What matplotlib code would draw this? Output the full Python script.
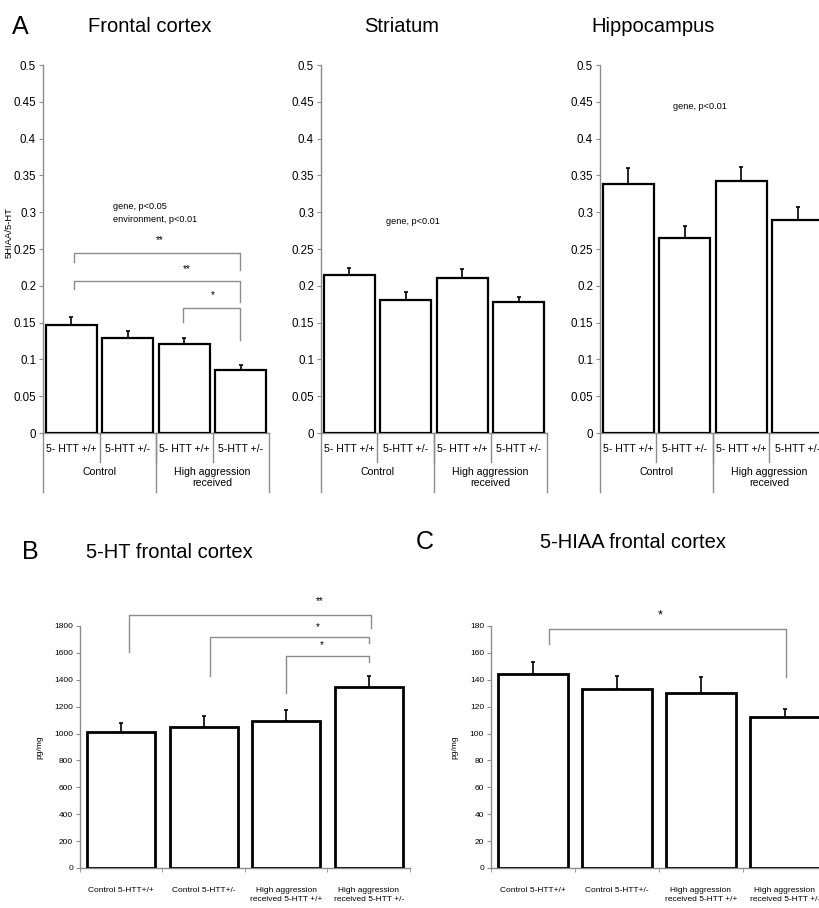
import matplotlib
matplotlib.use("Agg")
import matplotlib.pyplot as plt
import matplotlib.transforms as mtransforms
import numpy as np

W, H = 820, 908

# panel A: 5HIAA/5-HT ratio per region
regions = ["Frontal cortex", "Striatum", "Hippocampus"]
genotype_labels = ["5- HTT +/+", "5-HTT +/-", "5- HTT +/+", "5-HTT +/-"]
group_labels = ["Control", "High aggression\nreceived"]
frontal_ratio = [0.147, 0.129, 0.121, 0.086]
frontal_err = [0.010, 0.010, 0.008, 0.006]
striatum_ratio = [0.214, 0.181, 0.210, 0.178]
striatum_err = [0.010, 0.011, 0.013, 0.007]
hippo_ratio = [0.338, 0.265, 0.342, 0.289]
hippo_err = [0.022, 0.016, 0.020, 0.018]
stats_notes = ["gene, p<0.05\nenvironment, p<0.01", "gene, p<0.01", "gene, p<0.01"]

# panels B and C: absolute levels
group_names = ["Control 5-HTT+/+", "Control 5-HTT+/-",
               "High aggression\nreceived 5-HTT +/+", "High aggression\nreceived 5-HTT +/-"]
ht_values = [1010, 1050, 1092, 1344]
ht_err = [67, 81, 84, 87]
hiaa_values = [144, 133, 130.5, 112]
hiaa_err = [9.5, 10, 11.5, 6.5]

GRAY = "#8c8c8c"
plt.rcParams["font.family"] = ["Liberation Sans", "DejaVu Sans"]

fig = plt.figure(figsize=(W / 100, H / 100), dpi=100)


def add_ax(x0, y0, x1, y1):
    # pixel box -> figure fraction
    return fig.add_axes([x0 / W, 1 - y1 / H, (x1 - x0) / W, (y1 - y0) / H])


def style(ax, ylim, step, fs):
    ax.set_xlim(-0.5, 3.5)
    ax.set_ylim(0, ylim)
    ax.set_yticks(np.arange(0, ylim + step / 2, step))
    for s in ["top", "right"]:
        ax.spines[s].set_visible(False)
    for s in ["left", "bottom"]:
        ax.spines[s].set_color(GRAY)
        ax.spines[s].set_linewidth(1)
    ax.tick_params(axis="y", length=3, color=GRAY, labelsize=fs, pad=2)


def bars(ax, vals, errs, width, lw):
    x = np.arange(len(vals))
    ax.bar(x, vals, width=width, color="white", edgecolor="black", linewidth=lw, zorder=3)
    ax.errorbar(x, vals, yerr=[np.zeros(len(errs)), errs], fmt="none",
                ecolor="black", elinewidth=1.2, capsize=1.5, capthick=1.2, zorder=2)


def bracket(ax, x1, x2, y, y1, y2, label, lx, ly, fs):
    ax.plot([x1, x1, x2, x2], [y1, y, y, y2], color=GRAY, lw=1, clip_on=False)
    ax.text(lx, ly, label, ha="center", va="center", fontsize=fs)


# ---- panel A
a_boxes = [(43, 269), (321, 547), (600, 826)]
a_data = [(frontal_ratio, frontal_err), (striatum_ratio, striatum_err), (hippo_ratio, hippo_err)]
note_pos = [(0.74, 0.299, "left"), (1.13, 0.288, "center"), (1.27, 0.444, "center")]
title_x = [150, 402, 653]

for k, (x0, x1) in enumerate(a_boxes):
    ax = add_ax(x0, 65, x1, 433)
    vals, errs = a_data[k]
    bars(ax, vals, errs, 0.9, 1.6)
    style(ax, 0.5, 0.05, 8.3)
    ax.set_yticklabels([f"{v:g}" for v in np.arange(0, 0.501, 0.05).round(2)])
    ax.set_xticks(range(4))
    ax.set_xticklabels(genotype_labels, fontsize=7.6)
    ax.tick_params(axis="x", length=0, pad=8)
    trans = mtransforms.blended_transform_factory(ax.transData, ax.transAxes)
    for xb in [0.5, 1.5, 2.5]:
        ax.plot([xb, xb], [0, -0.079], color=GRAY, lw=1, transform=trans, clip_on=False)
    for xb in [-0.5, 1.5, 3.5]:
        ax.plot([xb, xb], [0, -0.16], color=GRAY, lw=1, transform=trans, clip_on=False)
    ax.text(0.5, -0.105, group_labels[0], ha="center", va="center", fontsize=7.6, transform=trans)
    ax.text(2.5, -0.122, group_labels[1], ha="center", va="center", fontsize=7.6,
            linespacing=1.15, transform=trans)
    nx, ny, ha = note_pos[k]
    ax.text(nx, ny, stats_notes[k], ha=ha, va="center", fontsize=6.6, linespacing=1.5)
    fig.text(title_x[k] / W, 1 - 27 / H, regions[k], ha="center", va="center", fontsize=14.5)
    if k == 0:
        bracket(ax, 0.04, 2.99, 0.244, 0.2325, 0.221, "**", 1.57, 0.262, 7)
        bracket(ax, 0.04, 2.99, 0.2067, 0.195, 0.178, "**", 2.05, 0.223, 7)
        bracket(ax, 1.98, 2.99, 0.170, 0.151, 0.126, "*", 2.5, 0.187, 7)

fig.text(20 / W, 1 - 27 / H, "A", ha="center", va="center", fontsize=18)
fig.text(9 / W, 1 - 232 / H, "5HIAA/5-HT", ha="center", va="center", rotation=90, fontsize=6.8)

# ---- panels B and C
for k, (x0, x1, vals, errs, ylim, step) in enumerate([
        (80, 410, ht_values, ht_err, 1800, 200),
        (491, 827, hiaa_values, hiaa_err, 180, 20)]):
    ax = add_ax(x0, 626, x1, 868)
    bars(ax, vals, errs, 0.83, 2.0)
    style(ax, ylim, step, 6.0)
    ax.set_xticks(range(4))
    ax.set_xticklabels(group_names, fontsize=6.0, linespacing=1.3, va="top")
    ax.tick_params(axis="x", which="major", length=0, pad=14)
    ax.set_xticks([-0.5, 0.5, 1.5, 2.5, 3.5], minor=True)
    ax.tick_params(axis="x", which="minor", length=3, color=GRAY)
    ax.set_ylabel("pg/mg", fontsize=6.0, labelpad=8)
    if k == 0:
        bracket(ax, 0.095, 3.03, 1882, 1609, 1783, "**", 2.41, 1985, 7)
        bracket(ax, 1.07, 3.0, 1721, 1429, 1671, "*", 2.38, 1795, 7)
        bracket(ax, 2.0, 3.0, 1580, 1300, 1530, "*", 2.43, 1659, 7)
    else:
        bracket(ax, 0.19, 3.01, 177.5, 166.6, 142, "*", 1.51, 187.5, 9)

fig.text(30 / W, 1 - 552 / H, "B", ha="center", va="center", fontsize=18)
fig.text(86 / W, 1 - 552 / H, "5-HT frontal cortex", ha="left", va="center", fontsize=14.5)
fig.text(425 / W, 1 - 542 / H, "C", ha="center", va="center", fontsize=18)
fig.text(633 / W, 1 - 542 / H, "5-HIAA frontal cortex", ha="center", va="center", fontsize=14.5)

fig.savefig("out.png", dpi=100, facecolor="white")
